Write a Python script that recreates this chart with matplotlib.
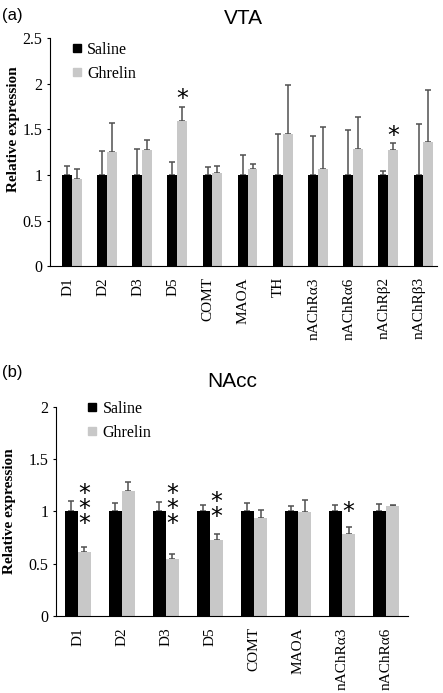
import numpy as np
import matplotlib.pyplot as plt
from matplotlib.lines import Line2D

# panel (a) VTA
vta_genes = ['D1', 'D2', 'D3', 'D5', 'COMT', 'MAOA', 'TH',
             'nAChRα3', 'nAChRα6', 'nAChRβ2', 'nAChRβ3']
vta_saline = [1, 1, 1, 1, 1, 1, 1, 1, 1, 1, 1]
vta_saline_err = [0.10, 0.26, 0.28, 0.14, 0.09, 0.22, 0.45, 0.43, 0.49, 0.04, 0.56]
vta_ghrelin = [0.95, 1.25, 1.27, 1.59, 1.02, 1.07, 1.45, 1.07, 1.28, 1.27, 1.36]
vta_ghrelin_err = [0.12, 0.32, 0.11, 0.15, 0.08, 0.05, 0.54, 0.45, 0.36, 0.08, 0.57]
vta_stars = {3: (1.83, 1), 9: (1.43, 1)}

# panel (b) NAcc
nacc_genes = ['D1', 'D2', 'D3', 'D5', 'COMT', 'MAOA', 'nAChRα3', 'nAChRα6']
nacc_saline = [1, 1, 1, 1, 1, 1, 1, 1]
nacc_saline_err = [0.10, 0.08, 0.09, 0.06, 0.08, 0.05, 0.06, 0.07]
nacc_ghrelin = [0.61, 1.20, 0.55, 0.73, 0.94, 0.99, 0.78, 1.05]
nacc_ghrelin_err = [0.05, 0.08, 0.04, 0.05, 0.07, 0.12, 0.07, 0.01]
nacc_stars = {0: (1.02, 3), 2: (1.02, 3), 3: (1.015, 2), 6: (0.99, 1)}

serif = 'Liberation Serif'
sans = 'Liberation Sans'
gray = '#c8c8c8'

fig = plt.figure(figsize=(4.43, 6.93), dpi=100)


def panel(ax, genes, sal, sal_err, ghr, ghr_err, stars, off, w, ymax, step):
    x = np.arange(len(genes))
    xs = x + off[0]
    xg = x + off[1]
    ax.bar(xs, sal, w, color='black', zorder=2)
    ax.bar(xg, ghr, w, color=gray, zorder=2)
    for xx, yy, ee in [(xs, sal, sal_err), (xg, ghr, ghr_err)]:
        ax.errorbar(xx, yy, yerr=[np.zeros(len(yy)), ee], fmt='none',
                    ecolor='#505050', elinewidth=1.1, capsize=2.3, capthick=1.1,
                    zorder=1)
    for i, (y0, n) in stars.items():
        ax.text(xg[i], y0, '\n'.join(['*'] * n), ha='center', va='center',
                fontsize=17, family='DejaVu Sans', linespacing=0.52)
    ax.set_xlim(-0.5, len(genes) - 0.5)
    ax.set_ylim(0, ymax)
    ticks = np.arange(0, ymax + 0.01, step)
    ax.set_yticks(ticks)
    ax.set_yticklabels(['%g' % v for v in ticks], family=serif, fontsize=11.5)
    ax.set_xticks(x)
    ax.set_xticklabels(genes, rotation=90, family=serif, fontsize=11)
    ax.tick_params(axis='x', length=0, pad=8)
    ax.tick_params(axis='y', length=2.5, width=0.8, pad=3)
    ax.spines['top'].set_visible(False)
    ax.spines['right'].set_visible(False)
    ax.set_ylabel('Relative expression', family=serif, fontweight='bold',
                  fontsize=11)
    handles = [Line2D([], [], marker='s', ls='none', color='black', markersize=5.5),
               Line2D([], [], marker='s', ls='none', color=gray, markersize=5.5)]
    return handles


ax1 = fig.add_axes([0.113, 0.616, 0.873, 0.329])
h = panel(ax1, vta_genes, vta_saline, vta_saline_err, vta_ghrelin, vta_ghrelin_err,
          vta_stars, (-0.02, 0.26), 0.28, 2.5, 0.5)
ax1.legend(h, ['Saline', 'Ghrelin'], loc='upper left', bbox_to_anchor=(0.054, 0.985),
           frameon=False, borderpad=0, borderaxespad=0, handlelength=0.7,
           handletextpad=0.3, labelspacing=0.5, prop={'family': serif, 'size': 11.5})
ax1.yaxis.set_label_coords(-0.078, 0.6)
ax1.set_title('VTA', family=sans, fontsize=15, pad=10)
fig.text(0.005, 0.978, '(a)', family=sans, fontsize=12, va='center')

ax2 = fig.add_axes([0.126, 0.111, 0.795, 0.302])
h = panel(ax2, nacc_genes, nacc_saline, nacc_saline_err, nacc_ghrelin, nacc_ghrelin_err,
          nacc_stars, (-0.15, 0.15), 0.30, 2, 0.5)
ax2.legend(h, ['Saline', 'Ghrelin'], loc='upper left', bbox_to_anchor=(0.087, 1.029),
           frameon=False, borderpad=0, borderaxespad=0, handlelength=0.7,
           handletextpad=0.3, labelspacing=0.5, prop={'family': serif, 'size': 11.5})
ax2.yaxis.set_label_coords(-0.112, 0.5)
ax2.set_title('NAcc', family=sans, fontsize=15, pad=14)
fig.text(0.005, 0.463, '(b)', family=sans, fontsize=12, va='center')

fig.savefig('out.png', dpi=100)
